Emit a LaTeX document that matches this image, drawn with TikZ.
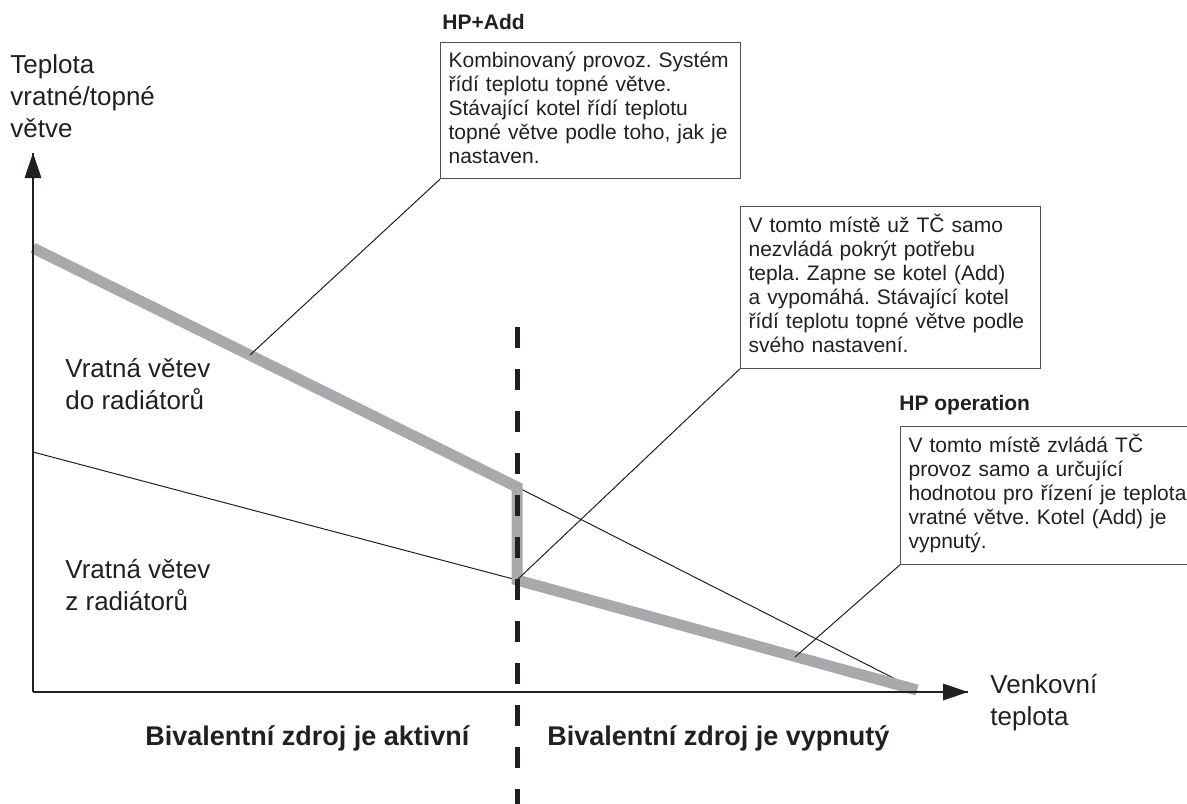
\documentclass[tikz,border=0pt]{standalone}
\usepackage{fontspec}
\setmainfont{Liberation Sans}
\frenchspacing
\definecolor{bandgray}{RGB}{167,169,172}
\definecolor{inkblack}{RGB}{35,31,32}
\definecolor{framegray}{RGB}{80,80,82}

\begin{document}
\begin{tikzpicture}[x=0.5pt,y=0.5pt]
\tikzstyle{every node}+=[inner sep=0pt, text=inkblack]
\tikzstyle{axis}=[line width=1pt, draw=inkblack]
\tikzstyle{curve}=[line width=5.5pt, draw=bandgray]
\tikzstyle{guide}=[line width=0.5pt, draw=inkblack]
\tikzstyle{leader}=[line width=0.5pt, draw=inkblack]
\tikzstyle{divider}=[line width=2.5pt, draw=inkblack, dash pattern=on 10.5pt off 10.5pt]
\tikzstyle{note}=[draw=framegray, line width=0.6pt, inner xsep=4pt, inner ysep=4pt, text width=142pt, align=left, anchor=north west, font=\fontsize{10.5}{12}\selectfont, execute at begin node=\strut, execute at end node=\strut]
\tikzstyle{title}=[anchor=base west, font=\bfseries\fontsize{10.5}{12}\selectfont]
\tikzstyle{sidetext}=[anchor=base west, align=left, font=\fontsize{13}{16}\selectfont]
\tikzstyle{zone}=[anchor=base west, font=\bfseries\fontsize{13.5}{16}\selectfont]
\useasboundingbox (0,0) rectangle (1187,-803);
\coordinate (origin) at (33,-692);
\coordinate (ytip) at (33,-153);
\coordinate (xtip) at (968,-692);
\coordinate (sup0) at (33,-248);
\coordinate (ret0) at (33,-452);
\coordinate (kinktop) at (517,-487);
\coordinate (kinkbot) at (517,-580);
\coordinate (meet) at (917,-690);
\coordinate (divtop) at (517,-327);
\coordinate (divbot) at (517,-810);
\coordinate (addfoot) at (250,-355);
\coordinate (hpfoot) at (795,-657);
% thin lines
\draw [guide] (kinktop) -- (meet);
\draw [guide] (ret0) -- (kinkbot);
% gray curve
\draw [curve] (sup0) -- (kinktop) -- (kinkbot) -- (meet);
% axes
\draw [axis] (origin) -- (ytip);
\fill [inkblack] (33,-153) -- (24.5,-178) -- (41.5,-178) -- cycle;
\draw [axis] (origin) -- (xtip);
\fill [inkblack] (968,-692) -- (943,-683.5) -- (943,-700.5) -- cycle;
\draw [divider] (divtop) -- (divbot);
% texts (base = last line)
\node [sidetext] (ylabel) at (10,-137) {Teplota\\vratné/topné\\větve};
\node [sidetext] (xlabel) at (990,-725) {Venkovní\\teplota};
\node [sidetext] (supply) at (65,-409) {Vratná větev\\do radiátorů};
\node [sidetext] (return) at (65,-610) {Vratná větev\\z radiátorů};
\node [zone] (active) at (145,-745) {Bivalentní zdroj je aktivní};
\node [zone] (off) at (547,-745) {Bivalentní zdroj je vypnutý};
% boxes
\node [title] (addtitle) at (442,-29) {HP+Add};
\node [note] (addnote) at (440,-42) {Kombinovaný provoz. Systém\\řídí teplotu topné větve.\\Stávající kotel řídí teplotu\\topné větve podle toho, jak je\\nastaven.};
\node [note] (boilernote) at (740,-206) {V tomto místě už TČ samo\\nezvládá pokrýt potřebu\\tepla. Zapne se kotel (Add)\\a vypomáhá. Stávající kotel\\řídí teplotu topné větve podle\\svého nastavení.};
\node [title] (hptitle) at (899,-410) {HP operation};
\node [note] (hpnote) at (900,-426) {V tomto místě zvládá TČ\\provoz samo a určující\\hodnotou pro řízení je teplota\\vratné větve. Kotel (Add) je\\vypnutý.};
\draw [leader] (addnote.south west) -- (addfoot);
\draw [leader] (boilernote.south west) -- (kinkbot);
\draw [leader] (hpnote.south west) -- (hpfoot);
\end{tikzpicture}
\end{document}
